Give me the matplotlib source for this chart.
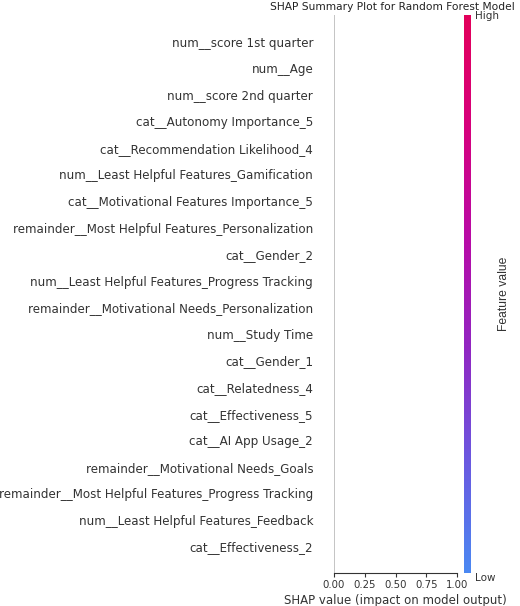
import matplotlib
matplotlib.use("Agg")
import matplotlib.pyplot as plt
from matplotlib.colors import LinearSegmentedColormap
from matplotlib.cm import ScalarMappable
from matplotlib.colors import Normalize

# features, top to bottom as shown in the plot
features = [
    "num__score 1st quarter",
    "num__Age",
    "num__score 2nd quarter",
    "cat__Autonomy Importance_5",
    "cat__Recommendation Likelihood_4",
    "num__Least Helpful Features_Gamification",
    "cat__Motivational Features Importance_5",
    "remainder__Most Helpful Features_Personalization",
    "cat__Gender_2",
    "num__Least Helpful Features_Progress Tracking",
    "remainder__Motivational Needs_Personalization",
    "num__Study Time",
    "cat__Gender_1",
    "cat__Relatedness_4",
    "cat__Effectiveness_5",
    "cat__AI App Usage_2",
    "remainder__Motivational Needs_Goals",
    "remainder__Most Helpful Features_Progress Tracking",
    "num__Least Helpful Features_Feedback",
    "cat__Effectiveness_2",
]
x_ticks = [0.0, 0.25, 0.5, 0.75, 1.0]

# approximation of shap's red_blue colormap
red_blue = LinearSegmentedColormap.from_list(
    "red_blue",
    ["#4a88f2", "#6a58e0", "#9026c2", "#b80aa6", "#d6007c", "#e2005a"],
)

W, H = 520, 606
fig = plt.figure(figsize=(W / 100, H / 100), dpi=100)

ax = fig.add_axes([334 / W, (H - 573) / H, 123 / W, 558 / H])
n = len(features)
ypos = list(range(n))[::-1]
ax.axvline(0, color="#c4c4c4", lw=1.4, zorder=-1)
ax.set_yticks(ypos)
ax.set_yticklabels(features, fontsize=8.6, color="#333333")
ax.set_ylim(-1, n)
ax.set_xlim(0, 1)
ax.set_xticks(x_ticks)
ax.set_xticklabels([f"{t:.2f}" for t in x_ticks], fontsize=7.3, color="#333333")
ax.tick_params(axis="y", length=0, pad=15)
ax.tick_params(axis="x", length=3, color="#333333", pad=2)
for s in ["top", "right", "left"]:
    ax.spines[s].set_visible(False)
ax.spines["bottom"].set_color("#333333")
ax.set_xlabel("SHAP value (impact on model output)", fontsize=8.5, color="#333333", labelpad=3)
fig.text(392 / W, 1 - 7 / H, "SHAP Summary Plot for Random Forest Model",
         fontsize=7.7, ha="center", va="center", color="#222222")

# colorbar
cax = fig.add_axes([464 / W, (H - 573) / H, 7 / W, 558 / H])
sm = ScalarMappable(norm=Normalize(0, 1), cmap=red_blue)
cb = fig.colorbar(sm, cax=cax, ticks=[0, 1])
cb.set_ticklabels(["Low", "High"])
cb.ax.tick_params(labelsize=7.5, length=0, pad=3, labelcolor="#333333")
lbls = cb.ax.get_yticklabels()
lbls[0].set_va("top")
lbls[1].set_va("center_baseline")
cb.outline.set_visible(False)
cb.ax.yaxis.set_label_coords(27 / 7 + 1, 0.5)
cb.set_label("Feature value", fontsize=8.7, family="Liberation Sans", color="#333333")

fig.savefig("out.png", dpi=100)
